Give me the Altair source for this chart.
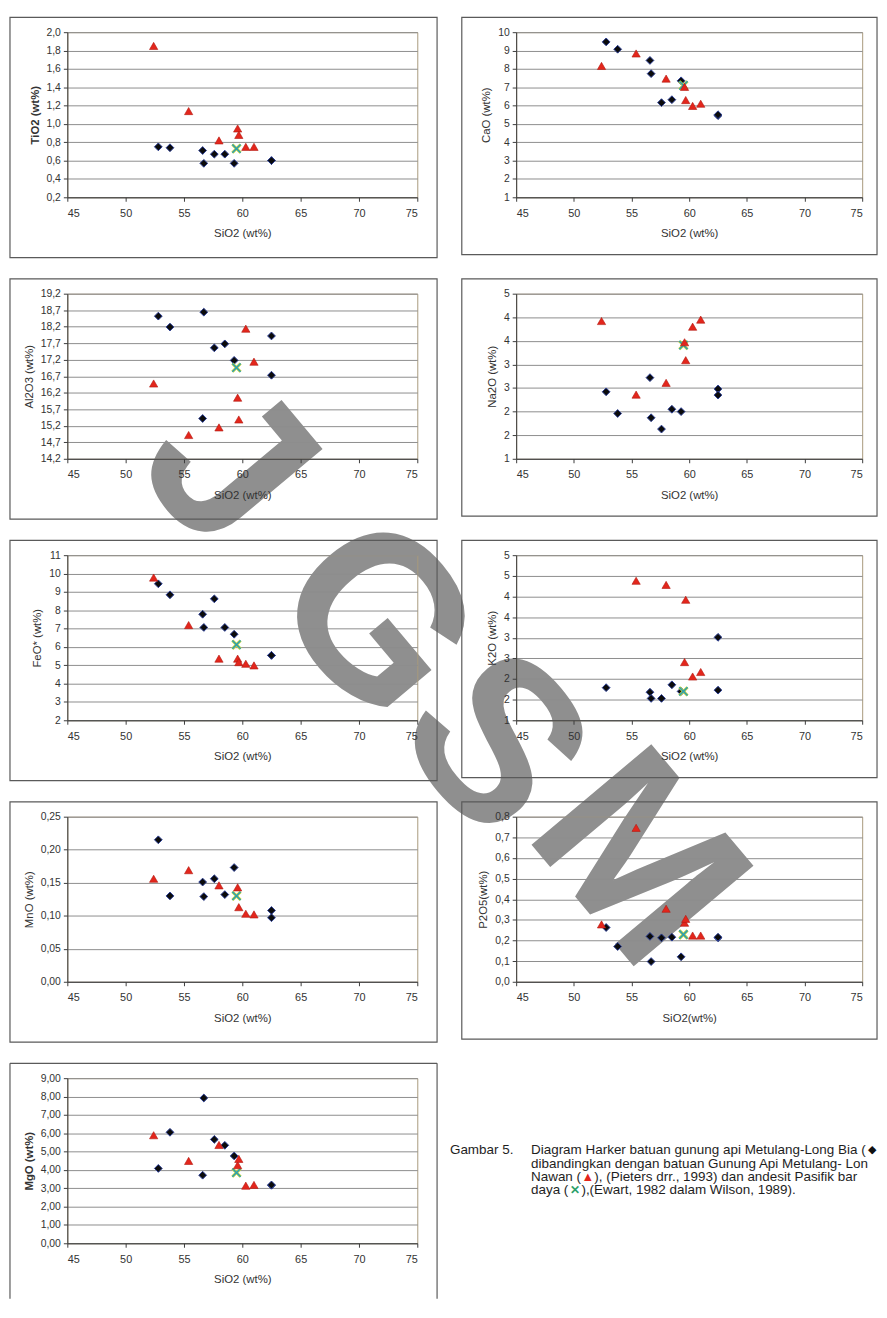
import altair as alt
import pandas as pd

# ---------------- data ----------------
X_TICKS = [45, 50, 55, 60, 65, 70, 75]

# SiO2 of the samples: Metulang-Long Bia (black), Metulang-Long Nawan (red), SW Pacific andesite (x)
SIO2_B = [52.8, 53.8, 56.6, 56.7, 57.6, 58.5, 59.3, 62.5, 62.5]
SIO2_R = [52.4, 55.4, 58.0, 59.6, 59.7, 60.3, 61.0]
SIO2_X = [59.5]

TIO2_B = [0.75, 0.74, 0.71, 0.57, 0.67, 0.67, 0.57, 0.60, 0.60]
TIO2_R = [1.85, 1.14, 0.82, 0.95, 0.88, 0.75, 0.75]
TIO2_X = [0.73]
TIO2_TICKS = [0.2, 0.4, 0.6, 0.8, 1.0, 1.2, 1.4, 1.6, 1.8, 2.0]

CAO_B = [9.47, 9.07, 8.46, 7.74, 6.16, 6.32, 7.35, 5.45, 5.50]
CAO_R = [8.16, 8.84, 7.47, 7.02, 6.30, 5.98, 6.10]
CAO_X = [7.10]
CAO_TICKS = [1, 2, 3, 4, 5, 6, 7, 8, 9, 10]

AL2O3_B = [18.52, 18.19, 15.42, 18.64, 17.56, 17.68, 17.18, 17.92, 16.73]
AL2O3_R = [16.48, 14.92, 15.15, 16.05, 15.39, 18.14, 17.14]
AL2O3_X = [16.96]
AL2O3_TICKS = [14.2, 14.7, 15.2, 15.7, 16.2, 16.7, 17.2, 17.7, 18.2, 18.7, 19.2]

NA2O_B = [2.42, 1.96, 2.72, 1.87, 1.63, 2.05, 2.00, 2.48, 2.35]
NA2O_R = [3.92, 2.36, 2.61, 3.47, 3.09, 3.80, 3.95]
NA2O_X = [3.41]
NA2O_TICKS = [1.0, 1.5, 2.0, 2.5, 3.0, 3.5, 4.0, 4.5]

FEO_B = [9.44, 8.84, 7.78, 7.06, 8.62, 7.06, 6.69, 5.54, 5.54]
FEO_R = [9.78, 7.19, 5.36, 5.36, 5.17, 5.08, 4.99]
FEO_X = [6.12]
FEO_TICKS = [2, 3, 4, 5, 6, 7, 8, 9, 10, 11]

K2O_B = [1.79, None, 1.68, 1.53, 1.53, 1.86, 1.70, 3.01, 1.73]
K2O_R = [None, 4.38, 4.28, 2.41, 3.92, 2.06, 2.17]
K2O_X = [1.70]
K2O_TICKS = [1.0, 1.5, 2.0, 2.5, 3.0, 3.5, 4.0, 4.5, 5.0]

MNO_B = [0.215, 0.130, 0.151, 0.129, 0.156, 0.132, 0.173, 0.108, 0.097]
MNO_R = [0.156, 0.169, 0.146, 0.143, 0.113, 0.103, 0.102]
MNO_X = [0.130]
MNO_TICKS = [0.0, 0.05, 0.10, 0.15, 0.20, 0.25]

P2O5_B = [0.263, 0.171, 0.220, 0.098, 0.213, 0.216, 0.121, 0.213, 0.216]
P2O5_R = [0.278, 0.746, 0.354, 0.286, 0.305, 0.224, 0.224]
P2O5_X = [0.229]
P2O5_TICKS = [0.0, 0.1, 0.2, 0.3, 0.4, 0.5, 0.6, 0.7, 0.8]

MGO_B = [4.08, 6.05, 3.71, 7.92, 5.66, 5.34, 4.76, 3.16, 3.18]
MGO_R = [5.89, 4.49, 5.36, 4.26, 4.60, 3.14, 3.18]
MGO_X = [3.85]
MGO_TICKS = [0, 1, 2, 3, 4, 5, 6, 7, 8, 9]

CAPTION_LABEL = "Gambar 5."
CAPTION_LINES = [
    "Diagram Harker batuan gunung api Metulang-Long Bia (",
    "dibandingkan dengan batuan Gunung Api Metulang- Lon",
    "Nawan (",
    "daya (",
]
CAPTION_TAILS = ["), (Pieters drr., 1993) dan andesit Pasifik bar",
                 "),(Ewart, 1982 dalam Wilson, 1989)."]
WATERMARK = ["J", "G", "S", "M"]

# ---------------- layout constants ----------------
H = 167
W_LEFT = 354
W_RIGHT = 350
FONT = "Liberation Sans"
ONE = pd.DataFrame({"k": [0]})
X_SHAPE = "M-1,-1L1,1M1,-1L-1,1"


def txt(text, x, y, **kw):
    opts = dict(align="left", baseline="middle", font=FONT, fontSize=13.6, color="#1e1e1e")
    opts.update(kw)
    return alt.Chart(ONE).mark_text(text=text, **opts).encode(x=alt.value(x), y=alt.value(y))


def frame(width, left, right, bottom, open_bottom=False):
    style = dict(color="#5a5a5a", strokeWidth=1.2)
    if not open_bottom:
        return [alt.Chart(ONE).mark_rect(fillOpacity=0, stroke="#5a5a5a", strokeWidth=1.2).encode(
            x=alt.value(-left), x2=alt.value(width + right),
            y=alt.value(-15), y2=alt.value(H + bottom))]
    return [
        alt.Chart(ONE).mark_rule(**style).encode(x=alt.value(-left), y=alt.value(-15), y2=alt.value(H + bottom)),
        alt.Chart(ONE).mark_rule(**style).encode(x=alt.value(width + right), y=alt.value(-15), y2=alt.value(H + bottom)),
        alt.Chart(ONE).mark_rule(**style).encode(x=alt.value(-left), x2=alt.value(width + right), y=alt.value(-15)),
    ]


def panel(ytitle, yb, yr, yx, ticks, fmt, width, left, right, bottom,
          xtitle="SiO2 (wt%)", bold=False, open_bottom=False, under=()):
    b = pd.DataFrame({"SiO2": SIO2_B, "v": yb}).dropna()
    r = pd.DataFrame({"SiO2": SIO2_R, "v": yr}).dropna()
    s = pd.DataFrame({"SiO2": SIO2_X, "v": yx})
    xenc = alt.X("SiO2:Q", scale=alt.Scale(domain=[45, 75], nice=False, zero=False),
                 axis=alt.Axis(values=X_TICKS, title=xtitle, grid=False, format="d"))
    yenc = alt.Y("v:Q", scale=alt.Scale(domain=[ticks[0], ticks[-1]], nice=False, zero=False),
                 axis=alt.Axis(values=ticks, title=ytitle, grid=True,
                               labelExpr="replace(format(datum.value, '" + fmt + "'), '.', ',')",
                               titleFontWeight="bold" if bold else "normal"))
    black = alt.Chart(b).mark_point(shape="diamond", filled=True, fill="#0b0b0b", stroke="#2c3f95",
                                    strokeWidth=1, size=62, opacity=1).encode(x=xenc, y=yenc)
    star1 = alt.Chart(s).mark_point(shape=X_SHAPE, filled=False, stroke="#c6d63c", strokeWidth=3,
                                    size=70, opacity=1).encode(x=xenc, y=yenc)
    star2 = alt.Chart(s).mark_point(shape=X_SHAPE, filled=False, stroke="#2a9db5", strokeWidth=1.5,
                                    size=70, opacity=1).encode(x=xenc, y=yenc)
    red = alt.Chart(r).mark_point(shape="triangle-up", filled=True, fill="#e3261c", stroke="#b0170f",
                                  strokeWidth=0.6, size=70, opacity=1).encode(x=xenc, y=yenc)
    layers = list(under) + frame(width, left, right, bottom, open_bottom) + [black, star1, star2, red]
    return alt.layer(*layers).properties(width=width, height=H)


# watermark, drawn first (inside the first cell) so that everything else lies on top of it
wm_pos = [(159, 442), (309, 597), (429, 722), (574, 839)]
watermark = [txt(ch, wx, wy, align="center", fontSize=230, fontWeight="bold",
                 angle=50, color="#8f8f8f", opacity=1)
             for ch, (wx, wy) in zip(WATERMARK, wm_pos)]

L = dict(width=W_LEFT, left=58, right=20, bottom=61)
R = dict(width=W_RIGHT, left=55, right=15, bottom=58)

p_tio2 = panel("TiO2 (wt%)", TIO2_B, TIO2_R, TIO2_X, TIO2_TICKS, ".1f", bold=True, under=watermark, **L)
p_cao = panel("CaO (wt%)", CAO_B, CAO_R, CAO_X, CAO_TICKS, ".0f", **R)
p_al = panel("Al2O3 (wt%)", AL2O3_B, AL2O3_R, AL2O3_X, AL2O3_TICKS, ".1f", **L)
p_na = panel("Na2O (wt%)", NA2O_B, NA2O_R, NA2O_X, NA2O_TICKS, ".0f", **R)
p_fe = panel("FeO* (wt%)", FEO_B, FEO_R, FEO_X, FEO_TICKS, ".0f", **L)
p_k = panel("K2O (wt%)", K2O_B, K2O_R, K2O_X, K2O_TICKS, ".0f", **R)
p_mn = panel("MnO (wt%)", MNO_B, MNO_R, MNO_X, MNO_TICKS, ".2f", **L)
p_p = panel("P2O5(wt%)", P2O5_B, P2O5_R, P2O5_X, P2O5_TICKS, ".1f", xtitle="SiO2(wt%)", **R)
p_mg = panel("MgO (wt%)", MGO_B, MGO_R, MGO_X, MGO_TICKS, ".2f", bold=True, open_bottom=True,
             width=W_LEFT, left=58, right=20, bottom=56)

# ---------------- caption cell ----------------
cap_layers = [
    txt(CAPTION_LABEL, -67, 73),
    txt(CAPTION_LINES[0], 15, 73),
    txt("\u25c6", 356, 73, color="#101010", fontSize=11),
    txt(CAPTION_LINES[1], 15, 86.5),
    txt(CAPTION_LINES[2], 15, 100),
    txt("\u25b2", 66, 100, color="#e3261c", fontSize=13),
    txt(CAPTION_TAILS[0], 79, 100),
    txt(CAPTION_LINES[3], 15, 113.5),
    txt("\u2715", 54, 113.5, color="#2aa06a", fontSize=12, fontWeight="bold"),
    txt(CAPTION_TAILS[1], 66, 113.5),
]
caption = alt.layer(*cap_layers).properties(
    width=W_RIGHT, height=H, view=alt.ViewBackground(stroke="transparent"))

chart = alt.concat(
    p_tio2, p_cao, p_al, p_na, p_fe, p_k, p_mn, p_p, p_mg, caption,
    columns=2, spacing={"row": 97.5, "column": 100}, bounds="flush", align="all",
).properties(padding=0).configure(font=FONT).configure_view(
    stroke="#a89a7c", strokeWidth=1
).configure_axis(
    labelFont=FONT, labelFontSize=10.5, labelColor="#333333",
    titleFont=FONT, titleFontSize=11.5, titleColor="#333333", titleFontWeight="normal",
    domainColor="#3c3c3c", tickColor="#3c3c3c", tickSize=4,
    gridColor="#8d8d8d", gridWidth=1,
).configure_axisX(labelPadding=6, titlePadding=10, labelFontSize=11).configure_axisY(
    labelPadding=3, titlePadding=6)

chart.save("out.html", embed_options={"renderer": "svg", "actions": False})
